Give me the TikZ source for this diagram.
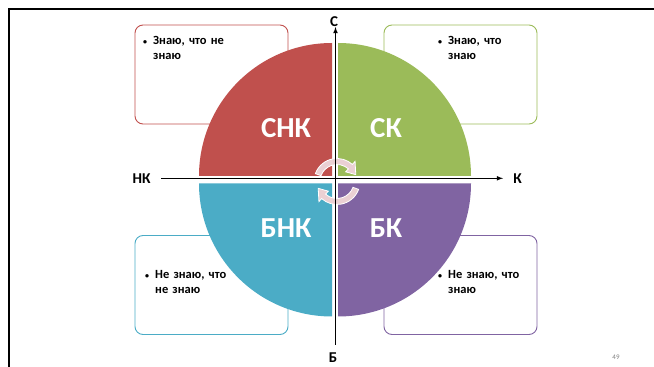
\documentclass[tikz,border=0pt]{standalone}
\usepackage{fontspec}
\setmainfont{Carlito}
\definecolor{snkred}{HTML}{C0504D}
\definecolor{skgreen}{HTML}{9BBB59}
\definecolor{bnkblue}{HTML}{4BACC6}
\definecolor{bkpurple}{HTML}{8064A2}
\definecolor{turnpink}{RGB}{234,208,211}
\tikzset{>=latex}

\begin{document}
\begin{tikzpicture}[x=1pt,y=1pt,
  box/.style={draw=#1,line width=0.9pt,rounded corners=8pt,minimum width=153pt,minimum height=99pt,inner sep=0pt},
  note/.style={anchor=north west,inner sep=0pt,text width=100pt,align=left,font=\fontsize{12.5}{15}\selectfont\bfseries},
  quad/.style={text=white,font=\fontsize{29}{32}\selectfont\bfseries},
  axlab/.style={font=\fontsize{15}{17}\selectfont\bfseries},
  turn/.style={fill=turnpink,draw=white,line width=0.8pt}]
  \useasboundingbox (0,0) rectangle (654,367);
  \draw[line width=2pt] (654,357.5) -- (8.5,357.5) -- (8.5,0); % slide frame
  \def\R{133} % radius of the quadrants
  \def\dot{\makebox[10pt][l]{\fontsize{8}{8}\selectfont\textbullet}} % small bullet
  \foreach \n/\c/\x/\y/\tx/\ty/\ta/\tb in {SNK/snkred/211.5/292.5/143/331/{Знаю, что не}/знаю,
      SK/skgreen/460.5/292.5/438/331/{Знаю, что}/знаю,
      BNK/bnkblue/211.5/82/145/97/{Не знаю, что}/{не знаю},
      BK/bkpurple/460.5/82/438/97/{Не знаю, что}/знаю}{ % loop over boxes
    \node[box=\c] (box\n) at (\x,\y) {};
    \node[note] (note\n) at (\tx,\ty) {\dot\ta\\\hspace*{10pt}\tb};
  }
  \foreach \n/\a/\c/\cx/\cy/\lx/\ly/\t in {SNK/90/snkred/332/191/286/239/СНК,
      SK/0/skgreen/338/191/386/239/СК,
      BNK/180/bnkblue/332/183.5/286/139/БНК,
      BK/270/bkpurple/338/183.5/386/139/БК}{ % loop over quadrants
    \fill[\c] (\cx,\cy) -- ++(\a:\R) arc (\a:\a+90:\R) -- cycle;
    \node[quad] (q\n) at (\lx,\ly) {\t};
  }
  \begin{scope}[shift={(337,185.5)}] % turning arrows
    \path[turn] (160:23) arc (160:48:23) -- (48:27) -- (20:20) -- (48:13) -- (48:17) arc (48:160:17) -- cycle;
    \path[turn] (340:23) arc (340:228:23) -- (228:27) -- (200:20) -- (228:13) -- (228:17) arc (228:340:17) -- cycle;
  \end{scope}
  \coordinate (axB) at (335.5,22);
  \coordinate (axC) at (335.5,340);
  \coordinate (axNK) at (161,188.7);
  \coordinate (axK) at (503,188.7);
  \draw[->,line width=1.1pt] (axB) -- (axC); % vertical axis
  \draw[->,line width=1.1pt] (axNK) -- (axK); % horizontal axis
  \node[axlab] (labC) at (334,345) {С};
  \node[axlab] (labB) at (333,9) {Б};
  \node[axlab] (labNK) at (141.5,188.7) {НК};
  \node[axlab] (labK) at (517.5,188.7) {К};
  \node[text=gray,font=\fontsize{7}{8}\selectfont] (pnum) at (616,10) {49};
\end{tikzpicture}
\end{document}
